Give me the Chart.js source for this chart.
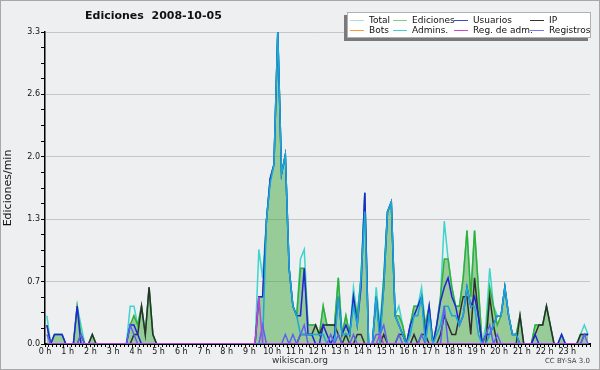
<!DOCTYPE html>
<html><head><meta charset="utf-8">
<script src="https://cdn.jsdelivr.net/npm/chart.js@4.4.1/dist/chart.umd.min.js"></script>
<style>
html,body{margin:0;padding:0;background:#eeeff1;}
#wrap{position:relative;width:600px;height:370px;overflow:hidden;background:#eeeff1;}
#frame{position:absolute;left:0;top:0;width:598px;height:368px;border:1px solid #a8a8a8;pointer-events:none;}
canvas{position:absolute;left:0;top:0;}
#title{position:absolute;left:85px;top:9px;font:bold 11px "DejaVu Sans";color:#111;white-space:pre;}
#legend{position:absolute;left:347px;top:12px;width:244px;height:26px;background:#fff;border:1px solid #b0b0b0;box-shadow:-3px 3px 0 #7a7a7a;box-sizing:border-box;}
.item{position:absolute;font:9px "DejaVu Sans";color:#111;line-height:10px;white-space:nowrap;}
.item i{display:inline-block;width:14px;height:1px;vertical-align:middle;margin-right:5px;}
#site{position:absolute;left:0;width:600px;top:355px;text-align:center;font:9px "DejaVu Sans";color:#333;}
#lic{position:absolute;right:10px;top:357px;font:7px "DejaVu Sans";color:#444;}
</style></head>
<body>
<div id="wrap">
<canvas id="c" width="600" height="370"></canvas>
<div id="title">Ediciones  2008-10-05</div>
<div id="legend"></div>
<div id="site">wikiscan.org</div>
<div id="lic">CC BY-SA 3.0</div>
<div id="frame"></div>
</div>
<script>
// 10-minute bins, 144 per day (values = edits per minute)
const hourLabels = ['0 h','1 h','2 h','3 h','4 h','5 h','6 h','7 h','8 h','9 h','10 h','11 h','12 h','13 h','14 h','15 h','16 h','17 h','18 h','19 h','20 h','21 h','22 h','23 h'];
const yTickValues = [0,0.165,0.33,0.495,0.66,0.825,0.99,1.155,1.32,1.485,1.65,1.815,1.98,2.145,2.31,2.475,2.64,2.805,2.97,3.135,3.3];

const total = [
0.3,0,0.1,0.1,0.1,0,
0,0,0.4,0.2,0,0,
0.1,0,0,0,0,0,
0,0,0,0,0.4,0.4,
0.2,0.4,0.1,0.6,0.1,0,
0,0,0,0,0,0,
0,0,0,0,0,0,
0,0,0,0,0,0,
0,0,0,0,0,0,
0,0,1.0,0.7,1.3,1.75,
1.9,3.3,1.8,2.0,0.8,0.4,
0.3,0.9,1.0,0.2,0.2,0.2,
0.1,0.4,0.2,0.2,0.2,0.7,
0.1,0.3,0.1,0.6,0.3,0.7,
1.6,0,0,0.6,0.2,0.7,
1.4,1.5,0.3,0.4,0.2,0,
0.2,0.4,0.4,0.6,0.2,0.4,
0,0.2,0.5,1.3,0.9,0.6,
0.4,0.4,0.7,1.2,0.5,1.2,
0.6,0,0.2,0.8,0.4,0.3,
0.3,0.6,0.3,0.1,0.1,0.3,
0,0,0,0.2,0.2,0.2,
0.4,0.2,0,0,0.1,0,
0,0,0,0.1,0.2,0.1];

const ediciones = [
0.2,0,0.1,0.1,0.1,0,
0,0,0.4,0.1,0,0,
0.1,0,0,0,0,0,
0,0,0,0,0.2,0.3,
0.2,0.4,0.1,0.6,0.1,0,
0,0,0,0,0,0,
0,0,0,0,0,0,
0,0,0,0,0,0,
0,0,0,0,0,0,
0,0,0.5,0.5,1.3,1.75,
1.9,3.3,1.8,2.0,0.8,0.4,
0.3,0.8,0.8,0.2,0.2,0.2,
0.1,0.4,0.2,0.2,0.2,0.7,
0.1,0.3,0.1,0.5,0.3,0.7,
1.6,0,0,0.5,0.1,0.7,
1.4,1.5,0.3,0.3,0.2,0,
0.2,0.4,0.4,0.5,0.2,0.4,
0,0.2,0.5,0.9,0.9,0.6,
0.4,0.4,0.7,1.2,0.5,1.2,
0.6,0,0.1,0.6,0.4,0.2,
0.3,0.6,0.3,0.1,0.1,0.3,
0,0,0,0.2,0.2,0.2,
0.4,0.2,0,0,0.1,0,
0,0,0,0.1,0.1,0.1];

const usuarios = [
0.2,0,0.1,0.1,0.1,0,
0,0,0.4,0,0,0,
0,0,0,0,0,0,
0,0,0,0,0.2,0.2,
0.1,0,0,0,0,0,
0,0,0,0,0,0,
0,0,0,0,0,0,
0,0,0,0,0,0,
0,0,0,0,0,0,
0,0,0.5,0.5,1.3,1.75,
1.9,3.3,1.8,2.0,0.8,0.4,
0.3,0.3,0.8,0.1,0.1,0,
0,0.2,0.1,0,0.1,0.5,
0.1,0.2,0.1,0.5,0.2,0.6,
1.6,0,0,0.5,0.1,0.6,
1.4,1.5,0.3,0.2,0.1,0,
0.2,0.3,0.4,0.5,0.1,0.4,
0,0.2,0.45,0.6,0.7,0.5,
0.4,0.2,0.3,0.6,0.4,0.5,
0.3,0,0.1,0.1,0.2,0.3,
0.3,0.6,0.3,0.1,0.1,0,
0,0,0,0.1,0,0,
0,0,0,0,0.1,0,
0,0,0,0,0.1,0.1];

const ip = [
0,0,0,0,0,0,
0,0,0,0.1,0,0,
0.1,0,0,0,0,0,
0,0,0,0,0,0.1,
0.1,0.4,0.1,0.6,0.1,0,
0,0,0,0,0,0,
0,0,0,0,0,0,
0,0,0,0,0,0,
0,0,0,0,0,0,
0,0,0,0,0,0,
0,0,0,0,0,0,
0,0.1,0.1,0.1,0.1,0.2,
0.1,0.2,0.2,0.2,0.2,0.1,
0,0.1,0,0,0.1,0.1,
0,0,0,0,0,0.1,
0,0,0,0.1,0.1,0,
0,0.1,0,0.1,0.1,0,
0,0,0.1,0.3,0.2,0.1,
0.1,0.3,0.5,0.5,0.1,0.7,
0.3,0,0,0.5,0.2,0,
0,0,0,0,0,0.3,
0,0,0,0.1,0.2,0.2,
0.4,0.2,0,0,0,0,
0,0,0,0.1,0.1,0.1];

const bots = [
0,0,0,0,0,0, 0,0,0,0,0,0, 0,0,0,0,0,0, 0,0,0,0,0,0,
0,0,0,0,0,0, 0,0,0,0,0,0, 0,0,0,0,0,0, 0,0,0,0,0,0,
0,0,0,0,0,0, 0,0,0,0,0,0, 0,0,0,0,0,0, 0,0,0,0,0,0,
0,0,0,0,0,0, 0,0,0,0,0,0, 0,0,0,0,0,0, 0,0,0,0,0,0,
0,0,0,0,0,0, 0,0,0,0,0,0, 0,0,0,0,0,0, 0,0,0,0,0,0,
0,0,0,0,0,0, 0,0,0,0,0,0, 0,0,0,0,0,0, 0,0,0,0,0,0];

const admins = [
0,0,0,0,0,0,
0,0,0,0,0,0,
0,0,0,0,0,0,
0,0,0,0,0,0,
0,0,0,0,0,0,
0,0,0,0,0,0,
0,0,0,0,0,0,
0,0,0,0,0,0,
0,0,0,0,0,0,
0,0,0,0,1.3,1.7,
1.9,3.3,1.8,2.0,0.8,0.4,
0.3,0.1,0.1,0.1,0.1,0.1,
0.1,0.1,0,0,0,0.5,
0.1,0.1,0.1,0.4,0.2,0.7,
1.4,0,0,0.5,0,0.6,
1.4,1.5,0.3,0.2,0.1,0,
0.1,0.3,0.3,0.5,0,0.3,
0,0.1,0.2,0.4,0.4,0.3,
0.3,0.2,0.3,0.6,0.4,0.4,
0.1,0,0,0.1,0.2,0.3,
0.3,0.6,0.3,0.1,0.1,0,
0,0,0,0,0,0,
0,0,0,0,0,0,
0,0,0,0,0,0];

const regAdm = [
0,0,0,0,0,0, 0,0,0,0,0,0, 0,0,0,0,0,0, 0,0,0,0,0,0,
0,0,0,0,0,0, 0,0,0,0,0,0, 0,0,0,0,0,0, 0,0,0,0,0,0,
0,0,0,0,0,0, 0,0,0.5,0,0,0, 0,0,0,0,0,0, 0,0,0,0,0,0,
0,0,0,0,0,0, 0,0,0,0,0,0, 0,0,0,0,0.1,0, 0,0,0,0,0,0,
0,0,0,0,0,0, 0,0,0,0,0,0, 0,0,0,0,0,0, 0,0,0,0,0,0,
0,0,0,0,0,0, 0,0,0,0,0,0, 0,0,0,0,0,0, 0,0,0,0,0,0];

const registros = [
0.1,0,0,0,0,0,
0,0,0,0.1,0,0,
0,0,0,0,0,0,
0,0,0,0,0.2,0.1,
0,0,0,0,0,0,
0,0,0,0,0,0,
0,0,0,0,0,0,
0,0,0,0,0,0,
0,0,0,0,0,0,
0,0,0,0.2,0,0,
0,0,0,0.1,0,0.1,
0,0.1,0.2,0,0,0,
0,0,0,0.1,0,0.1,
0,0,0,0.1,0,0,
0,0,0,0.1,0.1,0.2,
0,0,0,0.1,0,0,
0,0,0,0.1,0,0,
0,0,0,0.4,0,0,
0,0,0,0,0,0,
0,0,0.1,0.2,0,0.1,
0,0,0,0,0,0,
0,0,0,0,0,0,
0,0,0,0,0,0,
0,0,0,0,0.1,0];

const seriesNames = ['Total','Ediciones','Usuarios','IP','Bots','Admins.','Reg. de adm.','Registros'];
const lineColors  = ['#3fd4cc','#33b033','#2222d8','#2e2e2e','#ff9a2a','#1aa8d8','#c040d8','#6060f0'];
const legendColors= ['#aadddd','#88cc88','#4444cc','#333333','#ff9933','#44ccdd','#cc44cc','#7777ee'];
const seriesData  = [total, ediciones, usuarios, ip, bots, admins, regAdm, registros];

// legend (HTML)
const legPos = [[2,2],[45,2],[106,2],[182,2],[2,12],[45,12],[106,12],[182,12]];
const leg = document.getElementById('legend');
seriesNames.forEach((n,k)=>{
  const d=document.createElement('div'); d.className='item';
  d.style.left=legPos[k][0]+'px'; d.style.top=legPos[k][1]+'px';
  const i=document.createElement('i'); i.style.background=legendColors[k];
  d.appendChild(i); d.appendChild(document.createTextNode(n)); leg.appendChild(d);
});

const pts = arr => arr.map((v,i)=>({x:i+0.5,y:v}));
// drawing order: first dataset = top-most
const drawOrder = [6,7,5,2,3,1,0,4];
const datasets = drawOrder.map(k=>({
  label: seriesNames[k],
  data: pts(seriesData[k]),
  borderColor: lineColors[k],
  backgroundColor: k===1 ? 'rgba(40,160,40,0.44)' : lineColors[k],
  fill: k===1 ? 'origin' : false,
  borderWidth: 1.5,
  pointRadius: 0,
  tension: 0
}));

new Chart(document.getElementById('c'), {
  type: 'line',
  data: { datasets },
  options: {
    responsive: false, animation: false, devicePixelRatio: 1,
    layout: { padding: { top: 32, right: 10, left: 0, bottom: 0 } },
    plugins: { legend: { display: false }, tooltip: { enabled: false }, filler: { drawTime: 'beforeDatasetsDraw' } },
    scales: {
      x: {
        type: 'linear', min: 0, max: 144, z: 1,
        afterBuildTicks: s => { s.ticks = []; for (let k = 0; k <= 144; k++) s.ticks.push({ value: k }); },
        afterFit: s => { s.height = 26; },
        ticks: { autoSkip: false, maxRotation: 0, padding: 0, color: '#111',
          font: { family: 'DejaVu Sans', size: 8 },
          callback: v => (v % 6 === 0 && v < 144) ? hourLabels[v / 6] : '' },
        grid: { drawOnChartArea: false, drawTicks: true, tickLength: 3, color: '#000', tickWidth: 1 },
        border: { color: '#000', width: 2 }
      },
      y: {
        min: 0, max: 3.3, z: 1,
        afterBuildTicks: s => { s.ticks = yTickValues.map(v => ({ value: v })); },
        afterFit: s => { s.width = 45; },
        ticks: { autoSkip: false, padding: 1, color: '#111',
          font: { family: 'DejaVu Sans', size: 8 },
          callback: (v, idx) => idx % 4 === 0 ? v.toFixed(1) : '' },
        grid: { drawTicks: true, tickLength: 4, tickColor: '#000',
          color: c => (c.index % 4 === 0 && c.index > 0) ? '#c6c6c6' : 'rgba(0,0,0,0)' },
        border: { color: '#000', width: 1.5 },
        title: { display: true, text: 'Ediciones/min', color: '#111',
          font: { family: 'DejaVu Sans', size: 11 }, padding: { top: 2, bottom: 0 } }
      }
    }
  }
});
</script>
</body></html>
